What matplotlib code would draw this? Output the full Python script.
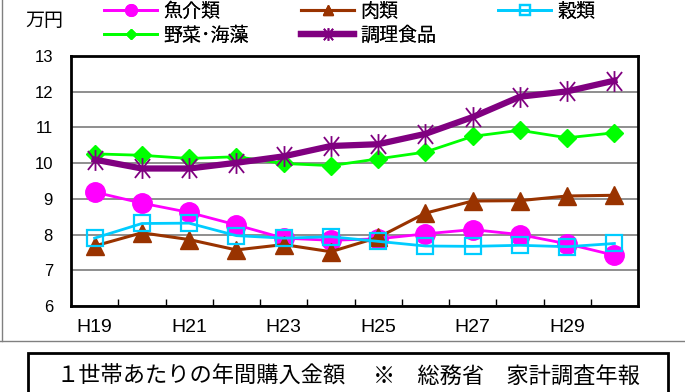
import matplotlib
matplotlib.use('Agg')
import matplotlib.pyplot as plt
from matplotlib.path import Path
from matplotlib.lines import Line2D
from matplotlib.patches import Rectangle

plt.rcParams['font.family'] = ['Noto Sans CJK JP', 'DejaVu Sans']

# 年度 (H19〜H30), 1世帯あたりの年間購入金額 (万円)
years = ['H19', 'H20', 'H21', 'H22', 'H23', 'H24', 'H25', 'H26', 'H27', 'H28', 'H29', 'H30']
fish = [9.19, 8.88, 8.62, 8.27, 7.90, 7.84, 7.88, 8.02, 8.14, 8.00, 7.74, 7.42]
meat = [7.68, 8.05, 7.86, 7.57, 7.72, 7.52, 7.92, 8.60, 8.94, 8.95, 9.08, 9.10]
grain = [7.90, 8.31, 8.32, 7.97, 7.90, 7.94, 7.81, 7.68, 7.67, 7.70, 7.66, 7.75]
veg = [10.26, 10.22, 10.13, 10.18, 9.99, 9.93, 10.12, 10.31, 10.75, 10.92, 10.71, 10.85]
cooked = [10.10, 9.85, 9.85, 10.01, 10.19, 10.48, 10.53, 10.82, 11.29, 11.86, 12.01, 12.31]

# asterisk marker: X with a vertical bar
star = Path([(-0.8, -1), (0.8, 1), (-0.8, 1), (0.8, -1), (0, -1.1), (0, 1.1)],
            [Path.MOVETO, Path.LINETO, Path.MOVETO, Path.LINETO, Path.MOVETO, Path.LINETO])

fig = plt.figure(figsize=(6.85, 3.92), dpi=100)
ax = fig.add_axes([71/685, 1-306/392, (638-71)/685, (306-56)/392])

x = [i + 0.5 for i in range(len(years))]
l1, = ax.plot(x, fish, color='#FF00FF', lw=2, marker='o', ms=14, mec='#FF00FF', label='魚介類')
l2, = ax.plot(x, meat, color='#993300', lw=2.2, marker='^', ms=12.5, label='肉類')
l3, = ax.plot(x, grain, color='#00CCFF', lw=2, marker='s', ms=11, mfc='none', mew=1.6, label='穀類')
l4, = ax.plot(x, veg, color='#00FF00', lw=2, marker='D', ms=9, label='野菜･海藻')
l5, = ax.plot(x, cooked, color='#800080', lw=4.5, marker=star, ms=15, mew=1.3, label='調理食品')

ax.set_xlim(0, len(years))
ax.set_ylim(6, 13)
ax.set_yticks(range(6, 14))
ax.yaxis.grid(True, color='#707070', lw=1.1)
ax.set_axisbelow(True)

ax.set_xticks(range(1, len(years)))
ax.set_xticklabels([])
ax.tick_params(axis='x', which='major', direction='in', length=5, width=1, color='black')
ax.set_xticks(x[::2], minor=True)
ax.set_xticklabels(years[::2], minor=True, family='Liberation Sans')
ax.tick_params(axis='x', which='minor', length=0, pad=9, labelsize=14)
ax.tick_params(axis='y', length=0, pad=13, labelsize=12)
for lab in ax.get_yticklabels():
    lab.set_family('Liberation Sans')
for s in ax.spines.values():
    s.set_linewidth(2)
    s.set_color('black')

# legend, one column at a time
cols = [([l1, l4], 104), ([l2, l5], 301), ([l3], 498)]
for handles, xl in cols:
    lg = fig.legend(handles=handles, loc='upper left', bbox_to_anchor=(xl/685, 1-1/392),
                    frameon=False, fontsize=13.7, handlelength=2.8, handletextpad=0.3,
                    labelspacing=0.15, markerscale=0.6, borderpad=0, borderaxespad=0)
    fig.add_artist(lg)

fig.text(25/685, 1-21/392, '万円', fontsize=13.7, va='center', ha='left')

# outer frame (left and bottom)
fig.add_artist(Line2D([1.5/685, 1.5/685], [1, 1-341/392], color='#808080', lw=1))
fig.add_artist(Line2D([0, 1], [1-341/392, 1-341/392], color='#808080', lw=1))

# caption box
fig.add_artist(Rectangle((28/685, -0.05), (668-28)/685, 0.05+1-353/392,
                         fill=False, ec='black', lw=2, transform=fig.transFigure))
fig.text(56/685, 1-376/392, '１世帯あたりの年間購入金額', fontsize=16, va='center', ha='left')
fig.text(640/685, 1-376/392, '※　総務省　家計調査年報', fontsize=16, va='center', ha='right')

fig.savefig('out.png', dpi=100)
